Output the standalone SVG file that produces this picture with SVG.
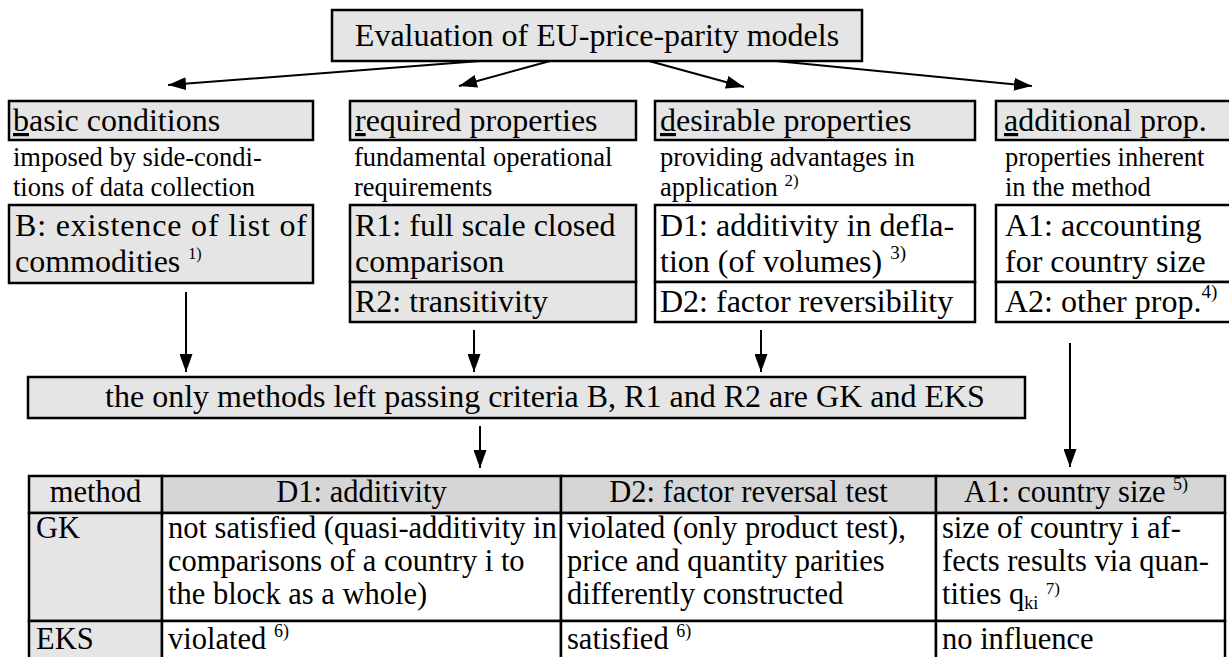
<svg xmlns="http://www.w3.org/2000/svg" width="1229" height="657" viewBox="0 0 1229 657">
<defs>
<style>
.g { fill:#e5e5e5; stroke:#000; stroke-width:2.5 }
.w { fill:#fff; stroke:#000; stroke-width:2.5 }
.h { fill:#d6d6d6; stroke:#000; stroke-width:2.5 }
text { font-family:"Liberation Serif","Times New Roman",serif; fill:#000; font-size:32px }
.s { font-size:26.5px }
.tb { font-size:30.5px }
.conn line { stroke:#000; stroke-width:2 }
.u { text-decoration:underline }
</style>
<marker id="ah" viewBox="0 0 18 13" refX="18" refY="6.5" markerWidth="18" markerHeight="13" markerUnits="userSpaceOnUse" orient="auto">
<path d="M0,0 L18,6.5 L0,13 z" fill="#000"/>
</marker>
</defs>
<rect width="1229" height="657" fill="#fff"/>

<g id="title">
<rect class="g" x="332" y="10" width="530" height="51"/>
<text x="597" y="46" text-anchor="middle">Evaluation of EU-price-parity models</text>
</g>

<g id="basic">
<rect class="g" x="9" y="101" width="304" height="39"/>
<text x="13" y="131"><tspan class="u">b</tspan>asic conditions</text>
<text class="s" x="13" y="166">imposed by side-condi-</text>
<text class="s" x="13" y="196">tions of data collection</text>
</g>
<g id="B">
<rect class="g" x="9" y="205" width="304" height="78"/>
<text x="15" y="236" textLength="292" lengthAdjust="spacing">B: existence of list of</text>
<text x="15" y="272">commodities <tspan font-size="16" dy="-13">1)</tspan></text>
</g>

<g id="required">
<rect class="g" x="350" y="101" width="286" height="39"/>
<text x="355" y="131"><tspan class="u">r</tspan>equired properties</text>
<text class="s" x="354" y="166">fundamental operational</text>
<text class="s" x="354" y="196">requirements</text>
</g>
<g id="R1">
<rect class="g" x="350" y="205" width="286" height="77"/>
<text x="355" y="236">R1: full scale closed</text>
<text x="355" y="272">comparison</text>
</g>
<g id="R2">
<rect class="g" x="350" y="282" width="286" height="40"/>
<text x="355" y="312">R2: transitivity</text>
</g>

<g id="desirable">
<rect class="g" x="655" y="101" width="320" height="39"/>
<text x="660" y="131"><tspan class="u">d</tspan>esirable properties</text>
<text class="s" x="660" y="166">providing advantages in</text>
<text class="s" x="660" y="196">application <tspan font-size="17" dy="-10">2)</tspan></text>
</g>
<g id="D1">
<rect class="w" x="655" y="205" width="320" height="77"/>
<text x="660" y="236">D1: additivity in defla-</text>
<text x="660" y="272">tion (of volumes) <tspan font-size="19" dy="-13">3)</tspan></text>
</g>
<g id="D2">
<rect class="w" x="655" y="282" width="320" height="40"/>
<text x="660" y="312">D2: factor reversibility</text>
</g>

<g id="additional">
<rect class="g" x="996" y="101" width="245" height="39"/>
<text x="1004" y="131"><tspan class="u">a</tspan>dditional prop.</text>
<text class="s" x="1005" y="166">properties inherent</text>
<text class="s" x="1005" y="196">in the method</text>
</g>
<g id="A1">
<rect class="w" x="996" y="205" width="245" height="77"/>
<text x="1005" y="236">A1: accounting</text>
<text x="1005" y="272">for country size</text>
</g>
<g id="A2">
<rect class="w" x="996" y="282" width="245" height="40"/>
<text x="1005" y="312">A2: other prop.<tspan font-size="19" dy="-14">4)</tspan></text>
</g>

<g id="bar">
<rect class="g" x="28" y="377" width="997" height="41"/>
<text x="545" y="407" font-size="31" text-anchor="middle">the only methods left passing criteria B, R1 and R2 are GK and EKS</text>
</g>

<g id="table">
<rect class="g" x="29" y="476" width="133" height="37"/>
<rect class="h" x="162" y="476" width="399" height="37"/>
<rect class="h" x="561" y="476" width="375" height="37"/>
<rect class="h" x="936" y="476" width="289" height="37"/>
<rect class="g" x="29" y="513" width="133" height="108"/>
<rect class="w" x="162" y="513" width="399" height="108"/>
<rect class="w" x="561" y="513" width="375" height="108"/>
<rect class="w" x="936" y="513" width="289" height="108"/>
<rect class="g" x="29" y="621" width="133" height="50"/>
<rect class="w" x="162" y="621" width="399" height="50"/>
<rect class="w" x="561" y="621" width="375" height="50"/>
<rect class="w" x="936" y="621" width="289" height="50"/>
<text class="tb" x="95.5" y="502" text-anchor="middle">method</text>
<text class="tb" x="361.5" y="502" text-anchor="middle">D1: additivity</text>
<text class="tb" x="748.5" y="502" text-anchor="middle">D2: factor reversal test</text>
<text class="tb" x="1076" y="502" text-anchor="middle">A1: country size <tspan font-size="18" dy="-12">5)</tspan></text>
<text class="tb" x="36" y="538">GK</text>
<text class="tb" x="168" y="538">not satisfied (quasi-additivity in</text>
<text class="tb" x="168" y="571">comparisons of a country i to</text>
<text class="tb" x="168" y="604">the block as a whole)</text>
<text class="tb" x="567" y="538">violated (only product test),</text>
<text class="tb" x="567" y="571">price and quantity parities</text>
<text class="tb" x="567" y="604">differently constructed</text>
<text class="tb" x="942" y="538">size of country i af-</text>
<text class="tb" x="942" y="571">fects results via quan-</text>
<text class="tb" x="942" y="604">tities q<tspan font-size="18" dy="5">ki</tspan> <tspan font-size="17" dy="-15">7)</tspan></text>
<text class="tb" x="36" y="649">EKS</text>
<text class="tb" x="168" y="649">violated <tspan font-size="18" dy="-12">6)</tspan></text>
<text class="tb" x="567" y="649">satisfied <tspan font-size="18" dy="-12">6)</tspan></text>
<text class="tb" x="942" y="649">no influence</text>
</g>

<g class="conn" id="connectors">
<line x1="480" y1="61" x2="168" y2="85" marker-end="url(#ah)"/>
<line x1="550" y1="61" x2="459" y2="86" marker-end="url(#ah)"/>
<line x1="649" y1="61" x2="744" y2="87" marker-end="url(#ah)"/>
<line x1="776" y1="61" x2="1032" y2="86" marker-end="url(#ah)"/>
<line x1="186" y1="292" x2="186" y2="372" marker-end="url(#ah)"/>
<line x1="474" y1="330" x2="474" y2="372" marker-end="url(#ah)"/>
<line x1="761" y1="330" x2="761" y2="372" marker-end="url(#ah)"/>
<line x1="1070" y1="343" x2="1070" y2="467" marker-end="url(#ah)"/>
<line x1="480" y1="426" x2="480" y2="468" marker-end="url(#ah)"/>
</g>
</svg>
